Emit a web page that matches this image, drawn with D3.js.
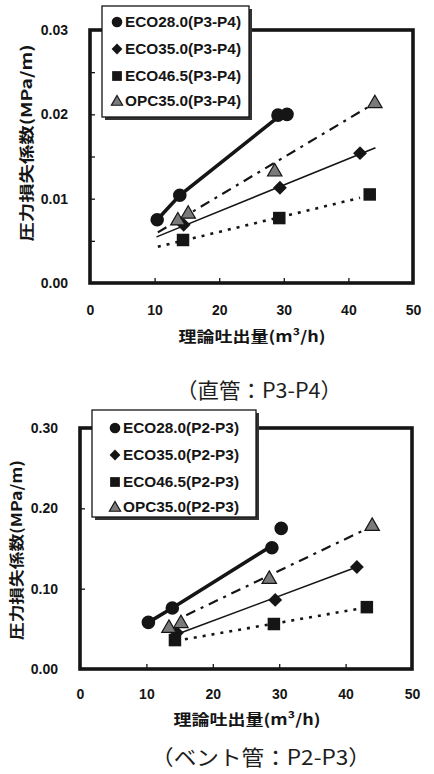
<!DOCTYPE html>
<html><head><meta charset="utf-8">
<script src="https://cdn.jsdelivr.net/npm/d3@7"></script>
<style>body{margin:0;background:#fff} svg{display:block}</style>
</head><body>
<svg id="c" width="434" height="774"></svg>
<script>
// ---------- data ----------
const xTickValues = [0, 10, 20, 30, 40, 50];
const xInnerTicks = [10, 20, 30, 40];
const yTickValuesTop = [0, 0.01, 0.02, 0.03];
const yInnerTicksTop = [0.005, 0.01, 0.015, 0.02, 0.025];
const yTickValuesBottom = [0, 0.1, 0.2, 0.3];
const yInnerTicksBottom = [0.1, 0.2];
const seriesNames = ["ECO28.0", "ECO35.0", "ECO46.5", "OPC35.0"];
const xTitle = "理論吐出量(m³/h)";
const yTitle = "圧力損失係数(MPa/m)";
const subtitleTop = "（直管：P3-P4）";
const subtitleBottom = "（ベント管：P2-P3）";

// top panel (straight pipe P3-P4)
const eco28Top = [[10.4,0.0075],[13.9,0.0104],[29.1,0.0199],[30.5,0.0200]];
const eco28TopFit = [[10.4,0.0075],[13.9,0.0104],[29.5,0.0199]];
const eco35Top = [[14.5,0.0069],[29.4,0.0113],[41.8,0.0154]];
const eco35TopFit = [[10.4,0.0055],[44.1,0.0160]];
const eco465Top = [[14.4,0.0051],[29.3,0.0077],[43.3,0.0105]];
const eco465TopFit = [[10.5,0.0043],[41.8,0.0101]];
const opc35Top = [[13.6,0.0075],[15.2,0.0083],[28.6,0.0133],[44.1,0.0214]];
const opc35TopFit = [[10.5,0.0060],[42.9,0.0208]];

// bottom panel (bent pipe P2-P3)
const eco28Bot = [[10.3,0.058],[13.9,0.076],[28.9,0.151],[30.3,0.175]];
const eco28BotFit = [[10.3,0.058],[13.9,0.076],[29.2,0.155]];
const eco35Bot = [[14.6,0.045],[29.4,0.086],[41.7,0.127]];
const eco35BotFit = [[15.2,0.045],[41.7,0.127]];
const eco465Bot = [[14.3,0.036],[29.2,0.056],[43.2,0.077]];
const eco465BotFit = [[15.8,0.037],[42.0,0.075]];
const opc35Bot = [[13.4,0.052],[15.2,0.058],[28.5,0.113],[44.0,0.179]];
const opc35BotFit = [[16.0,0.067],[42.8,0.173]];

// ---------- styles ----------
const styles = [
  {shape:"circle",  width:3.6, dash:null},
  {shape:"diamond", width:1.6, dash:null},
  {shape:"square",  width:2.6, dash:"3,6"},
  {shape:"triangle",width:2.2, dash:"10,6,3,6"}
];
const ink = "#151515";
const numFont = "'Liberation Sans', Arial, sans-serif";
const cjkFont = "'Noto Sans CJK JP', sans-serif";

const svg = d3.select("#c");

function marker(g, shape, cx, cy, s) {
  const sh = {circle:d3.symbolCircle, diamond:d3.symbolSquare, square:d3.symbolSquare, triangle:d3.symbolTriangle}[shape];
  const size = {circle:Math.PI*Math.pow(6.8*s,2), diamond:Math.pow(9.8*s,2), square:Math.pow(12.5*s,2), triangle:90*s*s}[shape];
  const p = g.append("path")
    .attr("d", d3.symbol().type(sh).size(size)())
    .attr("transform", `translate(${cx},${cy})` + (shape==="diamond" ? " rotate(45)" : "") + (shape==="triangle" ? " translate(0,1)" : ""))
    .attr("fill", shape==="triangle" ? "#7a7a7a" : ink);
  if (shape==="triangle") p.attr("stroke", ink).attr("stroke-width", 1.2);
}

function panel(cfg) {
  const g = svg.append("g");
  const x = d3.scaleLinear().domain([0,50]).range([cfg.left, cfg.right]);
  const y = d3.scaleLinear().domain(cfg.yDomain).range([cfg.bottom, cfg.top]);

  // inner ticks
  g.append("g").attr("transform", `translate(0,${cfg.bottom})`)
    .call(d3.axisBottom(x).tickValues(xInnerTicks).tickSize(-5).tickFormat(""))
    .call(a => a.select(".domain").remove())
    .call(a => a.selectAll("line").attr("stroke", ink).attr("stroke-width", 1.3));
  g.append("g").attr("transform", `translate(${cfg.left},0)`)
    .call(d3.axisLeft(y).tickValues(cfg.yInner).tickSize(-5).tickFormat(""))
    .call(a => a.select(".domain").remove())
    .call(a => a.selectAll("line").attr("stroke", ink).attr("stroke-width", 1.3));

  // tick labels
  g.append("g").attr("transform", `translate(0,${cfg.bottom})`)
    .call(d3.axisBottom(x).tickValues(xTickValues).tickSize(0).tickPadding(cfg.xLabelPad).tickFormat(d3.format("d")))
    .call(a => a.select(".domain").remove())
    .call(a => a.selectAll("text").attr("font-family", numFont).attr("font-weight","bold").attr("font-size",14).attr("fill",ink));
  g.append("g").attr("transform", `translate(${cfg.left},0)`)
    .call(d3.axisLeft(y).tickValues(cfg.yTicks).tickSize(0).tickPadding(cfg.left - cfg.yLabelX).tickFormat(d3.format(".2f")))
    .call(a => a.select(".domain").remove())
    .call(a => a.selectAll("text").attr("font-family", numFont).attr("font-weight","bold").attr("font-size",14).attr("fill",ink));

  // frame
  g.append("rect").attr("x", cfg.left).attr("y", cfg.top)
    .attr("width", cfg.right - cfg.left).attr("height", cfg.bottom - cfg.top)
    .attr("fill", "none").attr("stroke", ink).attr("stroke-width", 3.6);

  // fit lines
  const line = d3.line().x(d => x(d[0])).y(d => y(d[1]));
  cfg.fits.forEach((f, i) => {
    g.append("path").attr("d", line(f)).attr("fill","none").attr("stroke", ink)
      .attr("stroke-width", styles[i].width)
      .attr("stroke-dasharray", styles[i].dash)
      .attr("stroke-linecap", styles[i].dash ? "butt" : "round");
  });
  // points
  cfg.points.forEach((pts, i) => {
    pts.forEach(p => marker(g, styles[i].shape, x(p[0]), y(p[1]), 1));
  });

  // axis titles
  g.append("text").attr("x", cfg.xTitle.x).attr("y", cfg.xTitle.y)
    .attr("text-anchor","middle").attr("font-family", cjkFont).attr("font-weight","bold")
    .attr("font-size",15).attr("fill",ink)
    .attr("textLength", cfg.xTitle.len).attr("lengthAdjust","spacingAndGlyphs")
    .text(xTitle);
  g.append("text").attr("transform", `translate(${cfg.yTitle.x},${cfg.yTitle.cy}) rotate(-90)`)
    .attr("text-anchor","middle").attr("dominant-baseline","central")
    .attr("font-family", cjkFont).attr("font-weight","bold")
    .attr("font-size",15).attr("fill",ink)
    .attr("textLength", cfg.yTitle.len).attr("lengthAdjust","spacingAndGlyphs")
    .text(yTitle);

  // subtitle
  g.append("text").attr("x", cfg.sub.x).attr("y", cfg.sub.y)
    .attr("text-anchor","middle").attr("font-family", cjkFont)
    .attr("font-size",21).attr("fill","#1e1e1e")
    .attr("textLength", cfg.sub.len).attr("lengthAdjust","spacingAndGlyphs")
    .text(cfg.sub.text);

  // legend
  const L = cfg.legend;
  g.append("rect").attr("x", L.x+3).attr("y", L.y+3).attr("width", L.w).attr("height", L.h).attr("fill", "#333");
  g.append("rect").attr("x", L.x).attr("y", L.y).attr("width", L.w).attr("height", L.h)
    .attr("fill","#fff").attr("stroke", ink).attr("stroke-width",1.3);
  seriesNames.forEach((n, i) => {
    marker(g, styles[i].shape, L.mx, L.rows[i], 0.78);
    g.append("text").attr("x", L.tx).attr("y", L.rows[i] + 5)
      .attr("font-family", numFont).attr("font-weight","bold").attr("font-size",14).attr("fill",ink)
      .attr("textLength", 116).attr("lengthAdjust","spacingAndGlyphs")
      .text(n + L.suffix);
  });
}

panel({
  left:90, right:413, top:30, bottom:283, yDomain:[0,0.03],
  yTicks:yTickValuesTop, yInner:yInnerTicksTop, yLabelX:68, xLabelPad:22,
  xTitle:{x:252, y:342, len:147}, yTitle:{x:25, cy:143, len:197},
  sub:{text:subtitleTop, x:259, y:398, len:166},
  legend:{x:102, y:6, w:147, h:111, rows:[22,49,76,101], mx:117, tx:125, suffix:"(P3-P4)"},
  fits:[eco28TopFit, eco35TopFit, eco465TopFit, opc35TopFit],
  points:[eco28Top, eco35Top, eco465Top, opc35Top]
});
panel({
  left:80, right:412, top:428, bottom:669, yDomain:[0,0.3],
  yTicks:yTickValuesBottom, yInner:yInnerTicksBottom, yLabelX:58, xLabelPad:20,
  xTitle:{x:247, y:725, len:147}, yTitle:{x:15, cy:550, len:180},
  sub:{text:subtitleBottom, x:261, y:765, len:220},
  legend:{x:92, y:410, w:164, h:107, rows:[428,455,482,507], mx:115, tx:123, suffix:"(P2-P3)"},
  fits:[eco28BotFit, eco35BotFit, eco465BotFit, opc35BotFit],
  points:[eco28Bot, eco35Bot, eco465Bot, opc35Bot]
});
</script></body></html>
